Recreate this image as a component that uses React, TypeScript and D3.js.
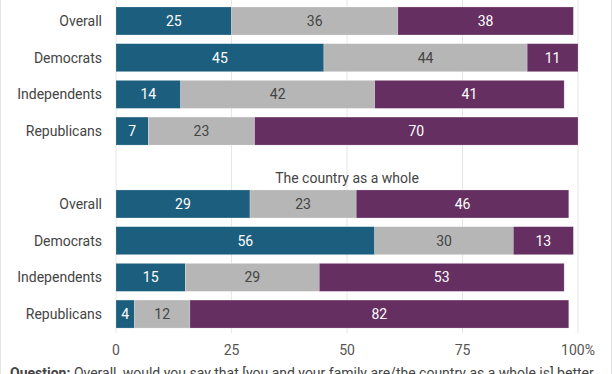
import React from "react";
import * as d3 from "d3";

const categories = ["Overall", "Democrats", "Independents", "Republicans"];
const seriesNames = ["Better", "Same", "Worse"];
const familyBetter = [25, 45, 14, 7];
const familySame = [36, 44, 42, 23];
const familyWorse = [38, 11, 41, 70];
const countryBetter = [29, 56, 15, 4];
const countrySame = [23, 30, 29, 12];
const countryWorse = [46, 13, 53, 82];
const tickValues = [0, 25, 50, 75, 100];
const tickLabels = ["0", "25", "50", "75", "100%"];
const panelTitle = "The country as a whole";

const colors = ["#1b5e7e", "#b6b6b6", "#652f61"];
const textColors = ["#ffffff", "#444444", "#ffffff"];

const W = 612;
const H = 374;
const FONT = "Roboto, 'Open Sans', sans-serif";

export default function App() {
  const x = d3.scaleLinear().domain([0, 100]).range([116, 578]);
  const yTop = d3
    .scaleBand<string>()
    .domain(categories)
    .range([2.65, 149.4])
    .paddingInner(0.237)
    .paddingOuter(0.118);
  const yBot = d3
    .scaleBand<string>()
    .domain(categories)
    .range([185.65, 332.4])
    .paddingInner(0.237)
    .paddingOuter(0.118);

  const panels = [
    { y: yTop, data: [familyBetter, familySame, familyWorse] },
    { y: yBot, data: [countryBetter, countrySame, countryWorse] },
  ];

  return (
    <svg
      width={W}
      height={H}
      style={{ position: "absolute", left: 0, top: 0, background: "#fff" }}
      fontFamily={FONT}
    >
      <rect x={0} y={0} width={W} height={H} fill="#fff" />
      <line x1={0.5} x2={0.5} y1={0} y2={H} stroke="#e4e4e4" />
      <line x1={611.5} x2={611.5} y1={0} y2={H} stroke="#e4e4e4" />
      {tickValues.map((t) => (
        <line
          key={"g" + t}
          x1={x(t)}
          x2={x(t)}
          y1={0}
          y2={333}
          stroke="#e6e6e6"
          strokeWidth={1}
        />
      ))}
      {panels.map((p, pi) => {
        const stack = d3
          .stack<number>()
          .keys(seriesNames.map((_, i) => String(i)))
          .value((d, key) => p.data[+key][d]);
        const series = stack(categories.map((_, i) => i));
        return (
          <g key={"p" + pi}>
            {series.map((s, si) =>
              s.map((seg, ci) => {
                const cat = categories[ci];
                const y0 = p.y(cat)!;
                const bw = p.y.bandwidth();
                const x0 = x(seg[0]);
                const x1 = x(seg[1]);
                const v = p.data[si][ci];
                return (
                  <g key={si + "-" + ci}>
                    <rect
                      x={x0}
                      y={y0}
                      width={x1 - x0}
                      height={bw}
                      fill={colors[si]}
                      stroke="#ffffff"
                      strokeOpacity={0.35}
                      strokeWidth={0.6}
                    />
                    <text
                      x={(x0 + x1) / 2}
                      y={y0 + bw / 2}
                      dy="0.35em"
                      textAnchor="middle"
                      fontSize={14}
                      fill={textColors[si]}
                    >
                      {v}
                    </text>
                  </g>
                );
              })
            )}
            {categories.map((c) => (
              <text
                key={"c" + c}
                x={102}
                y={p.y(c)! + p.y.bandwidth() / 2}
                dy="0.35em"
                textAnchor="end"
                fontSize={14}
                fill="#444"
              >
                {c}
              </text>
            ))}
          </g>
        );
      })}
      <text
        x={x(50)}
        y={178}
        dy="0.35em"
        textAnchor="middle"
        fontSize={14}
        fill="#444"
      >
        {panelTitle}
      </text>
      {tickValues.map((t, i) => (
        <text
          key={"t" + t}
          x={x(t)}
          y={350}
          dy="0.35em"
          textAnchor="middle"
          fontSize={14}
          fill="#555"
        >
          {tickLabels[i]}
        </text>
      ))}
      <text x={10} y={378} fontSize={14} fill="#444">
        <tspan fontWeight="bold">Question:</tspan>
        <tspan>
          {" "}Overall, would you say that [you and your family are/the country as a whole is] better
        </tspan>
      </text>
    </svg>
  );
}
